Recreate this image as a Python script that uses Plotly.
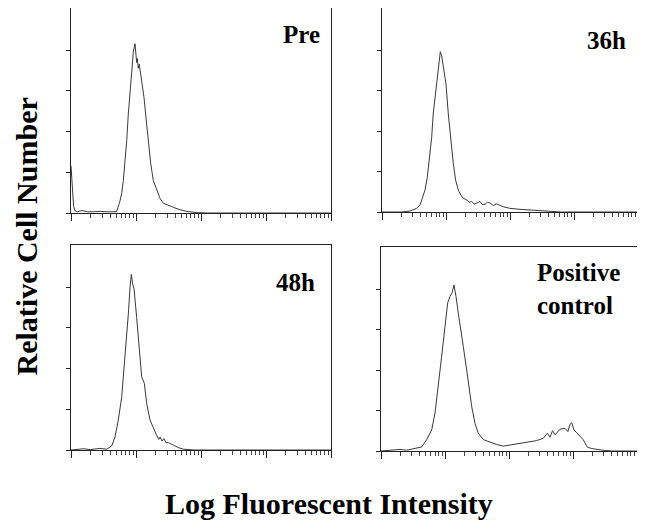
import plotly.graph_objects as go

# ---- data (log10 fluorescence decade, relative cell count) ----
pre_log = [0.0, 0.01, 0.02, 0.04, 0.06, 0.10, 0.17, 0.25, 0.35, 0.45, 0.55, 0.65, 0.70, 0.745,
           0.78, 0.805, 0.83, 0.857, 0.882, 0.90, 0.918, 0.943, 0.96, 0.985, 1.0, 1.01, 1.02,
           1.035, 1.05, 1.087, 1.123, 1.154, 1.19, 1.226, 1.266, 1.30, 1.318, 1.37, 1.42,
           1.497, 1.574, 1.677, 1.78, 1.93, 2.1, 4.0]
pre_cnt = [58, 45, 22, 8, 3, 1.5, 3, 1.5, 1.5, 2, 1.5, 1.5, 1.6, 12,
           24, 40, 61, 89, 122, 142, 162, 183, 199, 208, 196, 185, 190,
           178, 183, 162, 142, 117, 89, 61, 40, 33, 28, 18, 12,
           9, 7, 4, 2, 0.5, 0, 0]

h36_log = [0.0, 0.3, 0.4375, 0.54, 0.594, 0.635, 0.672, 0.708, 0.74, 0.776, 0.80, 0.839,
           0.865, 0.89, 0.911, 0.932, 0.948, 0.969, 1.0, 1.036, 1.073, 1.114, 1.151, 1.193,
           1.23, 1.27, 1.323, 1.36, 1.40, 1.44, 1.48, 1.53, 1.57, 1.61, 1.65, 1.69, 1.74,
           1.79, 1.895, 2.0, 2.156, 2.31, 2.47, 2.625, 2.8, 4.0]
h36_cnt = [0, 0, 1.2, 4.5, 8.6, 17, 27, 43, 64, 92, 121, 150,
           170, 191, 198, 193, 185, 178, 158, 121, 88, 60, 39, 27,
           21, 17, 15, 12, 13, 10, 11, 13, 9, 9.5, 12, 11, 8,
           10, 6.5, 4.5, 3.3, 2.5, 1.6, 0.4, 0, 0]

h48_log = [0.0, 0.19, 0.3, 0.446, 0.55, 0.626, 0.677, 0.728, 0.78, 0.815, 0.846, 0.882,
           0.908, 0.928, 0.949, 0.97, 1.01, 1.05, 1.087, 1.128, 1.165, 1.215, 1.277,
           1.318, 1.35, 1.37, 1.40, 1.43, 1.46, 1.497, 1.574, 1.65, 1.73, 1.9, 4.0]
h48_cnt = [0, 1.5, 0.5, 2, 1, 5, 16, 37, 65, 98, 131, 167,
           200, 216, 204, 198, 163, 127, 90, 82, 57, 37, 24.5,
           18, 13, 16, 11, 14, 9, 9, 6, 3, 1, 0, 0]

pos_log = [0.0, 0.297, 0.40, 0.505, 0.635, 0.714, 0.792, 0.844, 0.896, 0.948, 1.0, 1.042,
           1.078, 1.109, 1.14, 1.172, 1.208, 1.25, 1.286, 1.339, 1.38, 1.417, 1.469, 1.52,
           1.6, 1.70, 1.81, 1.91, 2.016, 2.12, 2.22, 2.33, 2.43, 2.536, 2.60, 2.64, 2.68,
           2.72, 2.797, 2.875, 2.92, 2.953, 2.98, 3.016, 3.083, 3.16, 3.22, 3.29, 3.47,
           3.6, 4.0]
pos_cnt = [0, 2, 1, 2.5, 5, 14, 26, 47, 80, 117, 154, 183,
           191, 195, 205, 191, 170, 150, 129, 100, 75, 55, 34, 22,
           14, 11, 8, 6, 7.4, 8.7, 9.5, 10.8, 12.8, 15.7, 22, 17, 25,
           20, 27, 28, 24, 33, 35, 26, 20, 14, 5, 3, 1,
           0, 0]

panel_labels = ["Pre", "36h", "48h", "Positive<br>control"]
y_title = "Relative Cell Number"
x_title = "Log Fluorescent Intensity"

# page body has an 8px margin: figure is placed at (8, 8) in the window
OFF = 8
W, H = 645 - OFF, 527 - OFF


def fx(px):
    return (px - OFF) / W


def fy(py):
    return min(1.0, max(0.0, 1 - (py - OFF) / H))


# panel frames in window pixels: (x0, x1, ytop, ybottom)
frames = [(71, 331, 6, 213), (382, 638, 8, 212), (71, 331, 245, 450), (381, 637, 247, 451)]
series = [(pre_log, pre_cnt), (h36_log, h36_cnt), (h48_log, h48_cnt), (pos_log, pos_cnt)]

fig = go.Figure()
major = [10 ** d for d in range(5)]
minor = [m * 10 ** d for d in range(4) for m in range(2, 10)]

for i, ((x0, x1, yt, yb), (lx, cy)) in enumerate(zip(frames, series)):
    n = "" if i == 0 else str(i + 1)
    fig.add_trace(go.Scatter(
        x=[10 ** v for v in lx], y=cy, mode="lines",
        line=dict(color="#3a3a3a", width=1), xaxis="x" + n, yaxis="y" + n,
        showlegend=False, hoverinfo="skip"))
    fig.update_layout(**{
        "xaxis" + n: dict(
            domain=[fx(x0), fx(x1)], type="log", range=[0, 4], anchor="y" + n,
            showline=True, linecolor="#222", linewidth=1, mirror=True,
            showgrid=False, zeroline=False, showticklabels=False,
            tickmode="array", tickvals=major, ticks="outside", ticklen=7,
            tickwidth=1, tickcolor="#222",
            minor=dict(tickmode="array", tickvals=minor, ticks="outside",
                       ticklen=4, tickwidth=1, tickcolor="#444", showgrid=False)),
        "yaxis" + n: dict(
            domain=[fy(yb), fy(yt)], range=[0, 252], anchor="x" + n,
            showline=True, linecolor="#222", linewidth=1, mirror=True,
            showgrid=False, zeroline=False, showticklabels=False,
            tickmode="array", tickvals=[0, 50, 100, 150, 200], ticks="outside",
            ticklen=4, tickwidth=1, tickcolor="#222"),
    })

serif = "Liberation Serif"
# panel labels
lab_pos = [(322, 34, "right"), (628, 40, "right"), (317, 282, "right"), (535, 289, "left")]
for txt, (px, py, al) in zip(panel_labels, lab_pos):
    fig.add_annotation(text="<b>" + txt + "</b>", xref="paper", yref="paper",
                       x=fx(px), y=fy(py), xanchor=al, yanchor="middle",
                       align="left", showarrow=False,
                       font=dict(family=serif, size=25, color="black"))

fig.add_annotation(text="<b>" + y_title + "</b>", xref="paper", yref="paper",
                   x=0, y=fy(237), xanchor="left", yanchor="middle",
                   textangle=-90, showarrow=False, borderpad=0,
                   font=dict(family=serif, size=30, color="black"))
fig.add_annotation(text="<b>" + x_title + "</b>", xref="paper", yref="paper",
                   x=fx(329), y=fy(503), xanchor="center", yanchor="middle",
                   showarrow=False, font=dict(family=serif, size=30, color="black"))

fig.update_layout(width=W, height=H, margin=dict(l=0, r=0, t=0, b=0),
                  paper_bgcolor="white", plot_bgcolor="white")
fig.write_html("out.html")
